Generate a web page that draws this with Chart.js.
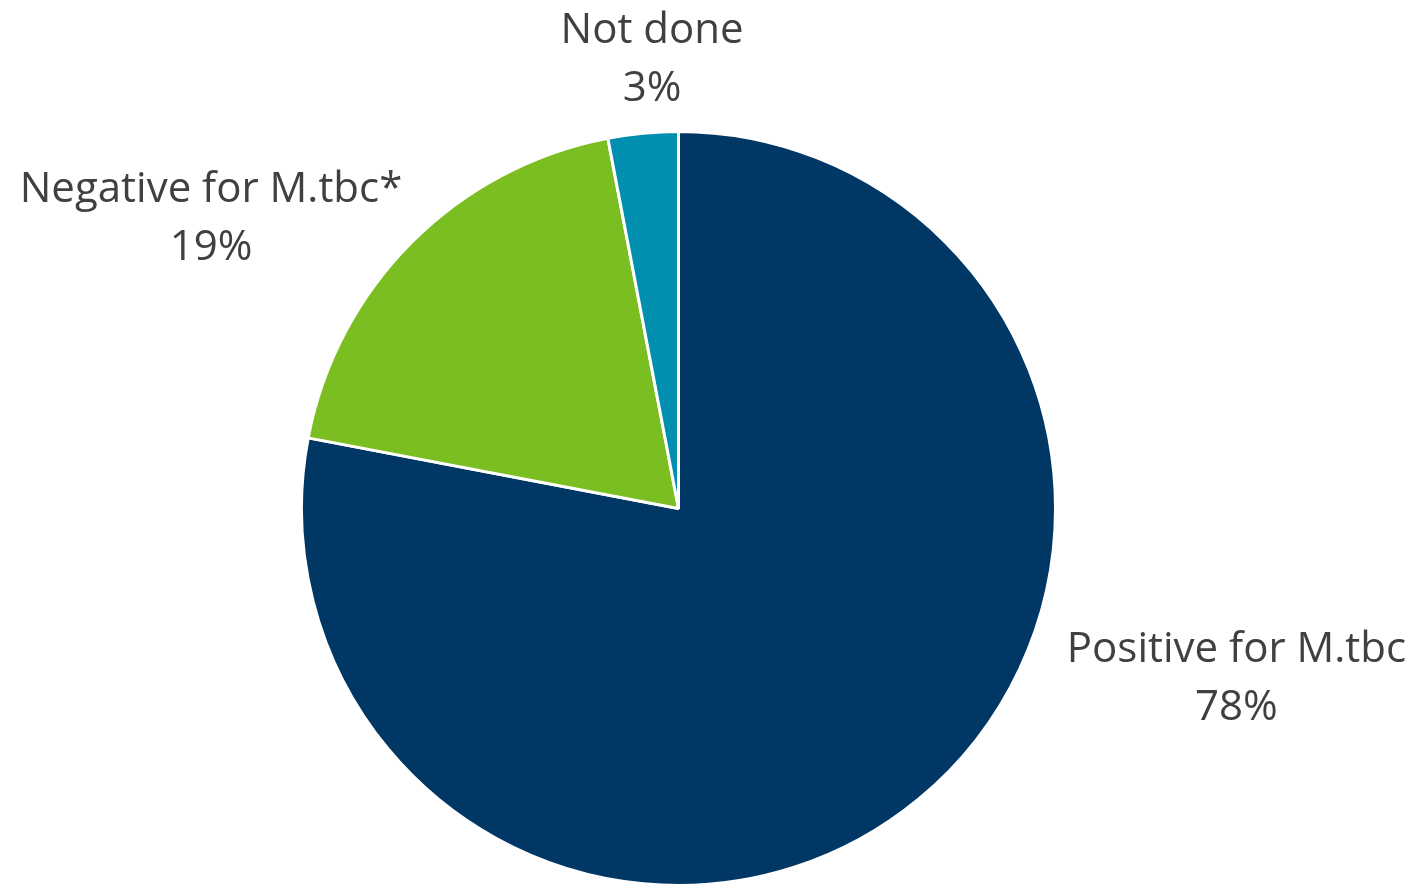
<!DOCTYPE html>
<html>
<head>
<meta charset="utf-8">
<script src="https://cdn.jsdelivr.net/npm/chart.js@4"></script>
<style>
    html, body { margin: 0; padding: 0; background: #fff; }
    #wrap { width: 1415px; height: 887px; position: relative; }
</style>
</head>
<body>
<div id="wrap"><canvas id="pieChart"></canvas></div>
<script>
// Data
const categories = ['Positive for M.tbc', 'Negative for M.tbc*', 'Not done'];
const shares = [78, 19, 3];
const sliceColors = ['#003764', '#7BBE21', '#008FAE'];

// Label box centres, relative to pie centre, in units of the radius
const labelOffsets = [
    { dx: 1.48, dy: 0.452 },
    { dx: -1.24, dy: -0.768 },
    { dx: -0.07, dy: -1.19 }
];

const outsideLabels = {
    id: 'outsideLabels',
    afterDatasetsDraw(chart) {
        const { ctx } = chart;
        const meta = chart.getDatasetMeta(0);
        ctx.save();
        ctx.fillStyle = '#404040';
        ctx.font = '42px "Open Sans"';
        ctx.textAlign = 'center';
        ctx.textBaseline = 'middle';
        meta.data.forEach((arc, i) => {
            const r = arc.outerRadius;
            const cx = arc.x + labelOffsets[i].dx * r;
            const cy = arc.y + labelOffsets[i].dy * r;
            ctx.fillText(categories[i], cx, cy - 29);
            ctx.fillText(shares[i] + '%', cx, cy + 29);
        });
        ctx.restore();
    }
};

const ctx = document.getElementById('pieChart').getContext('2d');
new Chart(ctx, {
    type: 'pie',
    data: {
        labels: categories,
        datasets: [{
            data: shares,
            backgroundColor: sliceColors,
            borderColor: '#ffffff',
            borderWidth: 3
        }]
    },
    options: {
        responsive: true,
        maintainAspectRatio: false,
        animation: false,
        layout: {
            padding: { left: 300, right: 358, top: 130, bottom: 0 }
        },
        plugins: {
            legend: { display: false },
            tooltip: { enabled: false }
        }
    },
    plugins: [outsideLabels]
});
</script>
</body>
</html>
